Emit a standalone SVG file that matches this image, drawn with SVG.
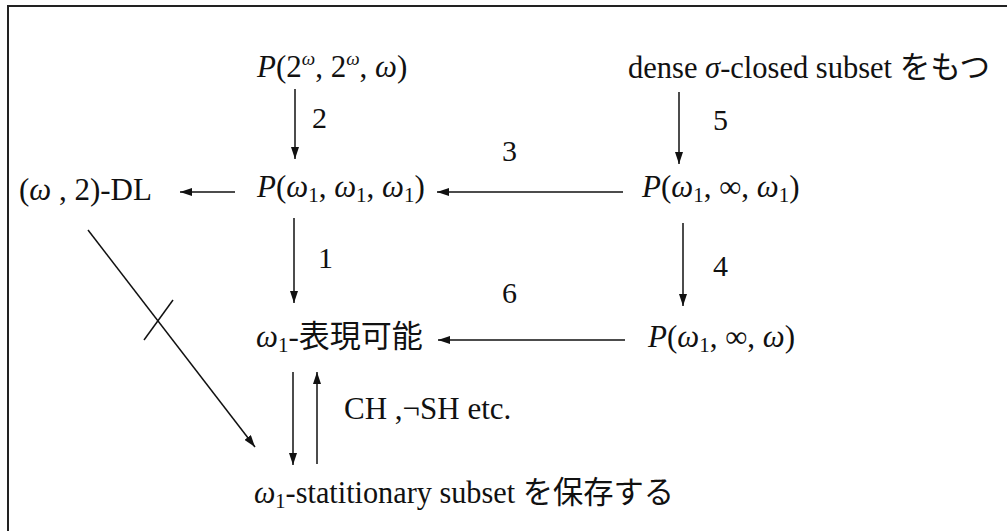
<svg xmlns="http://www.w3.org/2000/svg" width="1007" height="531" viewBox="0 0 1007 531">
<defs>
<style>
text{font-family:"Liberation Serif","Noto Sans CJK JP",serif;font-size:31px;fill:#111}
.i{font-style:italic}
.sub{font-size:21px}
.sup{font-size:19px;font-style:italic}
.lbl{font-size:30px}
.c line{stroke:#111;stroke-width:1.5;fill:none}
.frame{stroke:#222;stroke-width:2;fill:none}
</style>
<marker id="ah" viewBox="0 0 12 8" refX="12" refY="4" markerWidth="12" markerHeight="8" markerUnits="userSpaceOnUse" orient="auto">
<path d="M0,0 L12,4 L0,8 z" fill="#111"/>
</marker>
</defs>
<rect width="1007" height="531" fill="#fff"/>
<path class="frame" d="M8,531 L8,6 L1007,6"/>

<g id="n-p2w">
<text x="257" y="77"><tspan class="i">P</tspan>(2<tspan class="sup" dy="-12">ω</tspan><tspan dy="12">, 2</tspan><tspan class="sup" dy="-12">ω</tspan><tspan dy="12">, </tspan><tspan class="i">ω</tspan>)</text>
</g>
<g id="n-dense">
<text x="628" y="78" textLength="362" lengthAdjust="spacingAndGlyphs">dense <tspan class="i">σ</tspan>-closed subset をもつ</text>
</g>
<g id="n-dl">
<text x="19" y="200">(<tspan class="i">ω</tspan> , 2)-DL</text>
</g>
<g id="n-p111">
<text x="257" y="197"><tspan class="i">P</tspan>(<tspan class="i">ω</tspan><tspan class="sub" dy="5">1</tspan><tspan dy="-5">, </tspan><tspan class="i">ω</tspan><tspan class="sub" dy="5">1</tspan><tspan dy="-5">, </tspan><tspan class="i">ω</tspan><tspan class="sub" dy="5">1</tspan><tspan dy="-5">)</tspan></text>
</g>
<g id="n-p1inf1">
<text x="642" y="197"><tspan class="i">P</tspan>(<tspan class="i">ω</tspan><tspan class="sub" dy="5">1</tspan><tspan dy="-5">, ∞, </tspan><tspan class="i">ω</tspan><tspan class="sub" dy="5">1</tspan><tspan dy="-5">)</tspan></text>
</g>
<g id="n-repr">
<text x="256" y="347"><tspan class="i">ω</tspan><tspan class="sub" dy="5">1</tspan><tspan dy="-5">-表現可能</tspan></text>
</g>
<g id="n-p1infw">
<text x="648" y="347"><tspan class="i">P</tspan>(<tspan class="i">ω</tspan><tspan class="sub" dy="5">1</tspan><tspan dy="-5">, ∞, </tspan><tspan class="i">ω</tspan>)</text>
</g>
<g id="n-stat">
<text x="254" y="503" textLength="420" lengthAdjust="spacingAndGlyphs"><tspan class="i">ω</tspan><tspan class="sub" dy="5">1</tspan><tspan dy="-5">-statitionary subset を保存する</tspan></text>
</g>

<g id="connectors" class="c">
<line x1="295" y1="89" x2="295" y2="159" marker-end="url(#ah)"/>
<line x1="679" y1="92" x2="679" y2="164" marker-end="url(#ah)"/>
<line x1="235" y1="192" x2="180" y2="192" marker-end="url(#ah)"/>
<line x1="623" y1="192" x2="437" y2="192" marker-end="url(#ah)"/>
<line x1="294" y1="218" x2="294" y2="303" marker-end="url(#ah)"/>
<line x1="683" y1="223" x2="683" y2="306" marker-end="url(#ah)"/>
<line x1="625" y1="340" x2="438" y2="340" marker-end="url(#ah)"/>
<line x1="293" y1="372" x2="293" y2="465" marker-end="url(#ah)"/>
<line x1="317" y1="464" x2="317" y2="372" marker-end="url(#ah)"/>
<line x1="88" y1="230" x2="255" y2="447" marker-end="url(#ah)"/>
<line x1="144" y1="340" x2="173" y2="300"/>
</g>

<g id="labels">
<text class="lbl" x="312" y="128">2</text>
<text class="lbl" x="713" y="130">5</text>
<text class="lbl" x="502" y="161">3</text>
<text class="lbl" x="318" y="268">1</text>
<text class="lbl" x="713" y="276">4</text>
<text class="lbl" x="502" y="303">6</text>
<text x="344" y="419">CH ,¬SH etc.</text>
</g>
</svg>
